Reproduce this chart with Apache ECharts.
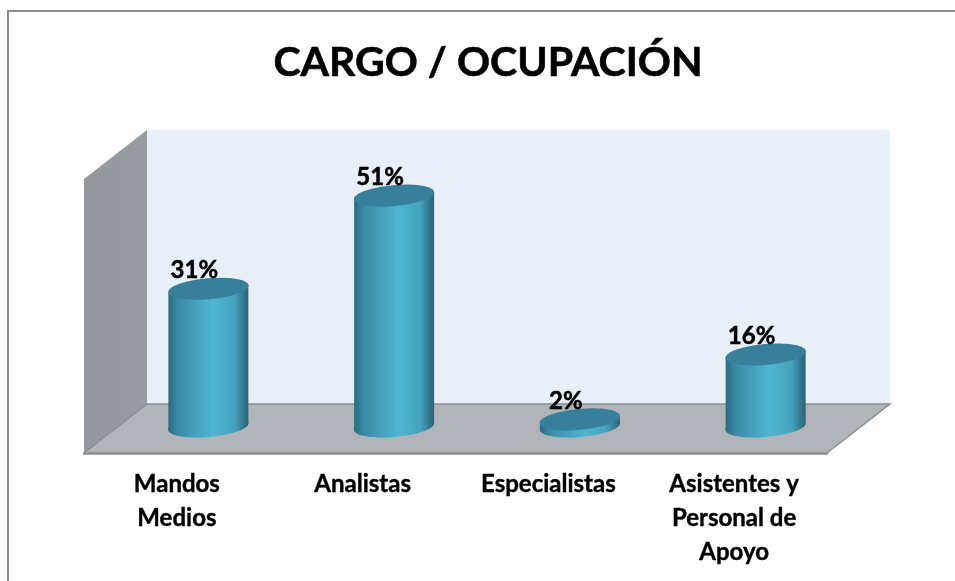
<!DOCTYPE html>
<html>
<head>
<meta charset="utf-8">
<style>html,body{margin:0;padding:0;background:#fff}#c{width:955px;height:581px}</style>
<script src="https://cdn.jsdelivr.net/npm/echarts@6/dist/echarts.min.js"></script>
</head>
<body>
<div id="c"></div>
<script>
const titleText = 'CARGO / OCUPACIÓN';
const categories = ['Mandos\nMedios', 'Analistas', 'Especialistas', 'Asistentes y\nPersonal de\nApoyo'];
const shares = [30.6, 51, 2, 16.2];
const yMax = 60;
const depth = [63, -49];
const font = 'Lato, "Open Sans", sans-serif';

const chart = echarts.init(document.getElementById('c'), null, {renderer: 'canvas'});
const sideFill = new echarts.graphic.LinearGradient(0, 0, 1, 0, [
  {offset: 0, color: '#2c6a80'},
  {offset: 0.12, color: '#3a8aa6'},
  {offset: 0.55, color: '#4fb6d3'},
  {offset: 0.82, color: '#44a3bf'},
  {offset: 0.94, color: '#33768c'},
  {offset: 1, color: '#2b6276'}
]);

function renderCylinder(params, api) {
  const base = api.coord([api.value(0), 0]);
  const head = api.coord([api.value(0), api.value(1)]);
  const cx = base[0] + depth[0] / 2;
  const by = base[1] + depth[1] / 2 - 2;
  const ty = head[1] + depth[1] / 2;
  const rx = 40, ry = 10.5, tilt = 3.5, rot = 0.088;
  const ell = (y, fill, z2) => ({
    type: 'ellipse', z2,
    shape: {cx: 0, cy: 0, rx: rx + 0.3, ry},
    x: cx, y, rotation: rot,
    style: {fill}
  });
  return {
    type: 'group',
    children: [
      ell(by, sideFill, 1),
      {type: 'polygon', z2: 2,
       shape: {points: [[cx - rx, ty + tilt], [cx + rx, ty - tilt], [cx + rx, by - tilt], [cx - rx, by + tilt]]},
       style: {fill: sideFill}},
      ell(ty, '#38809a', 3),
      {type: 'text', z2: 4, x: cx - 14, y: ty - 18,
       style: {text: Math.round(api.value(1)) + '%', fill: '#000', stroke: '#000', lineWidth: 0.5,
               align: 'center', verticalAlign: 'middle', font: 'bold 24px ' + font}}
    ]
  };
}

chart.setOption({
  animation: false,
  backgroundColor: '#fff',
  title: {
    text: titleText, left: 483, top: 37, textAlign: 'center',
    textStyle: {fontFamily: font, fontWeight: 'bold', fontSize: 41, color: '#000', textBorderColor: '#000', textBorderWidth: 0.6}
  },
  grid: {left: 84, right: 128, top: 179, bottom: 128},
  xAxis: {
    type: 'category', data: categories,
    axisTick: {show: false},
    axisLine: {show: true, lineStyle: {color: '#8b8e91', width: 2.5}},
    axisLabel: {interval: 0, margin: 14, color: '#000', fontFamily: font, fontWeight: 'bold', fontSize: 24, lineHeight: 34,
                textBorderColor: '#000', textBorderWidth: 0.4}
  },
  yAxis: {type: 'value', min: 0, max: yMax, show: false, splitLine: {show: false}},
  graphic: [
    {type: 'polygon', z: -5, shape: {points: [[147,130],[890,130],[890,404],[147,404]]}, style: {fill: '#e8eff7'}},
    {type: 'polygon', z: -4, shape: {points: [[84,179],[147,130],[147,404],[84,453]]},
     style: {fill: new echarts.graphic.LinearGradient(0,0,1,0,[{offset:0,color:'#94979b'},{offset:1,color:'#989b9f'}])}},
    {type: 'polygon', z: -4, shape: {points: [[84,453],[147,404],[890,404],[827,453]]}, style: {fill: '#b1b5b9'}},
    {type: 'polyline', z: -3, shape: {points: [[84,453],[147,404],[890,404],[827,453]]}, style: {stroke: '#8b8e91', lineWidth: 1.5, fill: null}},
    {type: 'polyline', z: -3, shape: {points: [[8,581],[8,11],[955,11]]}, style: {stroke: '#8c8c8c', lineWidth: 2, fill: null}}
  ],
  series: [{
    type: 'custom',
    coordinateSystem: 'cartesian2d',
    renderItem: renderCylinder,
    encode: {x: 0, y: 1},
    data: shares.map((v, i) => [i, v]),
    clip: false
  }]
});
</script>
</body>
</html>
